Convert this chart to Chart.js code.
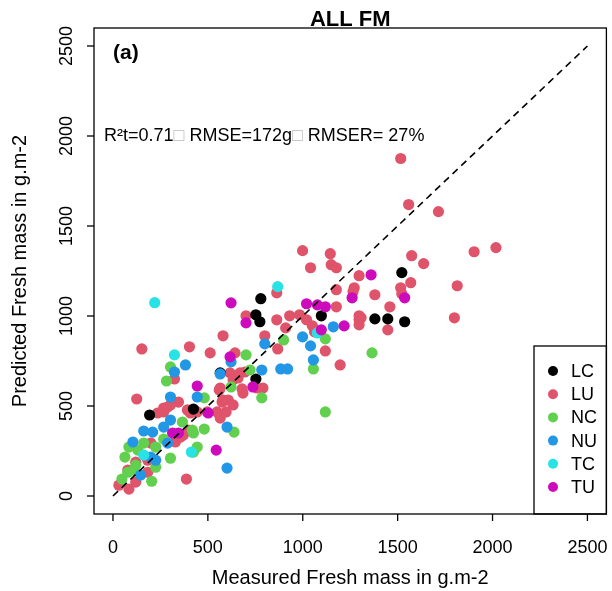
<!DOCTYPE html>
<html>
<head>
<meta charset="utf-8">
<script src="https://cdn.jsdelivr.net/npm/chart.js@4.4.0/dist/chart.umd.min.js"></script>
<style>
  html, body { margin: 0; padding: 0; background: #fff; }
</style>
</head>
<body>
<canvas id="fm" width="612" height="591"></canvas>
<script>
// [measured, predicted] fresh mass in g.m-2, one pair per plot
const LC = [[193,450],[424,483],[565,684],[753,650],[779,1096],[753,1007],[774,968],[1098,1001],
  [1380,984],[1448,984],[1537,968],[1522,1241]];
const LU = [[235,461],[267,467],[408,461],[371,339],[397,366],[199,294],[329,300],[356,327],[183,199],
  [120,188],[78,144],[183,132],[31,60],[84,38],[120,77],[387,94],[125,539],[152,817],[403,829],[512,795],
  [580,890],[643,795],[800,890],[701,1001],[863,1129],[863,979],[931,1001],[983,1007],[1020,979],[1051,945],
  [1062,912],[910,934],[868,817],[1119,806],[1197,728],[1177,1146],[1177,1051],[1271,1157],[1265,1135],
  [1380,1118],[1297,1224],[1297,979],[1307,990],[1297,951],[1448,923],[1459,1051],[1516,1157],[1522,1124],
  [1569,1185],[1574,1335],[1637,1291],[1814,1168],[1799,990],[1903,1357],[2018,1380],[1516,1875],[1558,1619],
  [1715,1580],[999,1363],[1145,1346],[1150,1285],[1177,1268],[1041,1268],[565,600],[580,533],[607,533],
  [633,506],[685,572],[680,595],[758,600],[790,600],[617,684],[633,645],[669,684],[695,689],[659,656],
  [560,589],[575,522],[596,467],[549,467],[565,433],[267,489],[303,506],[345,522],[392,478],[444,467],
  [497,467],[288,494],[324,650],[1297,1001]];
const NC = [[366,411],[418,366],[424,350],[481,372],[84,272],[131,255],[162,294],[225,272],[267,316],
  [444,272],[424,244],[63,216],[303,210],[120,171],[225,160],[78,132],[110,144],[47,94],[204,82],[638,355],
  [481,545],[622,606],[784,545],[701,784],[722,700],[303,717],[282,639],[899,867],[1119,873],[1056,706],
  [1365,795],[1119,467]];
const NU = [[162,361],[209,355],[267,383],[303,422],[105,300],[288,294],[199,216],[225,199],[146,116],
  [601,155],[601,383],[303,550],[444,550],[382,728],[324,689],[622,745],[565,678],[784,700],[800,845],
  [999,884],[1041,834],[1056,756],[884,706],[920,706],[1161,940]];
const TC = [[220,1074],[324,784],[868,1163],[162,227],[1077,906],[413,244]];
const TU = [[314,350],[345,350],[502,461],[544,255],[444,611],[617,773],[622,1073],[701,962],[1020,1068],
  [1077,1062],[1119,1051],[1098,923],[1218,945],[1260,1101],[1360,1229],[1537,1101],[737,606]];

const groups = ['LC', 'LU', 'NC', 'NU', 'TC', 'TU'];
const groupData = [LC, LU, NC, NU, TC, TU];
const colors = ['#000000', '#DF536B', '#61D04F', '#2297E6', '#28E2E5', '#CD0BBC'];
const drawOrder = [4, 5, 3, 2, 1, 0]; // lower = drawn on top
const tickValues = [0, 500, 1000, 1500, 2000, 2500];
const oneToOne = [[0, 0], [2500, 2500]];

const toXY = arr => arr.map(p => ({ x: p[0], y: p[1] }));

const datasets = groups.map((g, i) => ({
  label: g,
  data: toXY(groupData[i]),
  backgroundColor: colors[i],
  borderWidth: 0,
  pointRadius: 5.6,
  pointHoverRadius: 5.6,
  order: drawOrder[i]
}));
datasets.push({
  label: '1:1',
  type: 'line',
  data: toXY(oneToOne),
  borderColor: '#000',
  borderWidth: 1.6,
  borderDash: [7, 5],
  pointRadius: 0,
  showLine: true,
  order: -1
});

// R-style box, axes, texts and legend
const rFrame = {
  id: 'rFrame',
  afterDraw(chart) {
    const { ctx, chartArea: a, scales: { x, y } } = chart;
    ctx.save();
    ctx.strokeStyle = '#000';
    ctx.fillStyle = '#000';
    ctx.lineWidth = 1.3;
    ctx.strokeRect(a.left, a.top, a.right - a.left, a.bottom - a.top);

    ctx.font = '18px "Liberation Sans", Arial, sans-serif';
    ctx.textAlign = 'center';
    ctx.textBaseline = 'alphabetic';
    tickValues.forEach(v => {
      const px = x.getPixelForValue(v);
      ctx.beginPath();
      ctx.moveTo(px, a.bottom);
      ctx.lineTo(px, a.bottom + 7);
      ctx.stroke();
      ctx.fillText(String(v), px, 553);

      const py = y.getPixelForValue(v);
      ctx.beginPath();
      ctx.moveTo(a.left, py);
      ctx.lineTo(a.left - 7, py);
      ctx.stroke();
      ctx.save();
      ctx.translate(72, py);
      ctx.rotate(-Math.PI / 2);
      ctx.fillText(String(v), 0, 0);
      ctx.restore();
    });

    // axis titles
    ctx.font = '20px "Liberation Sans", Arial, sans-serif';
    ctx.fillText('Measured Fresh mass in g.m-2', (a.left + a.right) / 2, 584);
    ctx.save();
    ctx.translate(26, (a.top + a.bottom) / 2);
    ctx.rotate(-Math.PI / 2);
    ctx.fillText('Predicted Fresh mass in g.m-2', 0, 0);
    ctx.restore();

    // title and panel letter
    ctx.font = 'bold 22px "Liberation Sans", Arial, sans-serif';
    ctx.fillText('ALL FM', (a.left + a.right) / 2, 26);
    ctx.textAlign = 'left';
    ctx.font = 'bold 21px "Liberation Sans", Arial, sans-serif';
    ctx.fillText('(a)', 113, 59);

    // fit statistics
    ctx.font = '18px "Liberation Sans", Arial, sans-serif';
    const parts = [['R\u00b2t=0.71', '#000'], ['\u25a1', '#bbb'], [' RMSE=172g', '#000'], ['\u25a1', '#bbb'], [' RMSER= 27%', '#000']];
    let tx = 104;
    parts.forEach(([s, c]) => {
      ctx.fillStyle = c;
      ctx.fillText(s, tx, 141);
      tx += ctx.measureText(s).width;
    });
    ctx.fillStyle = '#000';

    // legend
    const lx = 534, ly = 346;
    ctx.lineWidth = 1.3;
    ctx.strokeRect(lx, ly, a.right - lx, a.bottom - ly);
    ctx.font = '18px "Liberation Sans", Arial, sans-serif';
    ctx.textBaseline = 'middle';
    groups.forEach((g, i) => {
      const ry = 371 + i * 23.2;
      ctx.fillStyle = colors[i];
      ctx.beginPath();
      ctx.arc(553, ry, 5, 0, Math.PI * 2);
      ctx.fill();
      ctx.fillStyle = '#000';
      ctx.fillText(g, 571, ry + 1);
    });
    ctx.restore();
  }
};

new Chart(document.getElementById('fm'), {
  type: 'scatter',
  data: { datasets },
  options: {
    responsive: false,
    animation: false,
    devicePixelRatio: 1,
    layout: { padding: { left: 94, right: 4, top: 28, bottom: 77 } },
    scales: {
      x: { type: 'linear', min: -100, max: 2600, display: false },
      y: { type: 'linear', min: -100, max: 2600, display: false }
    },
    plugins: { legend: { display: false }, tooltip: { enabled: false } }
  },
  plugins: [rFrame]
});
</script>
</body>
</html>
